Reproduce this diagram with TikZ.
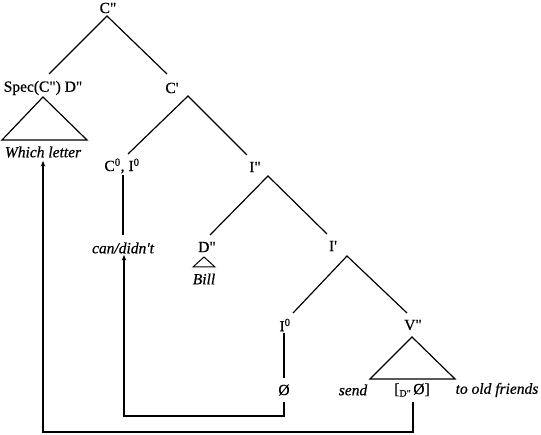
\documentclass[tikz,border=0pt]{standalone}
\usepackage{fontspec}
\setmainfont{Liberation Serif}[Ligatures=TeXOff,FakeBold=0.6]
\usetikzlibrary{arrows.meta}
\begin{document}
\begin{tikzpicture}[x=1pt,y=-1pt,
  lbl/.style={inner sep=0pt,font=\fontsize{15.5}{17}\selectfont},
  ilbl/.style={lbl,font=\fontsize{15.5}{17}\selectfont\itshape},
  edge/.style={line width=1.2pt},
  mv/.style={line width=1.2pt,-{Stealth[length=5.5pt,width=4.5pt]}}]
\useasboundingbox (0,0) rectangle (541,435);
% labels
\node[lbl] (Cpp) at (108,8) {C"};
\node[lbl] (spec) at (43,88) {Spec(C") D"};
\node[ilbl] (which) at (43,152) {Which letter};
\node[lbl] (Cp) at (172,88) {C'};
\node[lbl] (C0) at (122,166) {C\textsuperscript{0}, I\textsuperscript{0}};
\node[lbl] (Ipp) at (255,167) {I"};
\node[ilbl] (can) at (123,248) {can/didn't};
\node[lbl] (Dpp) at (207,247) {D"};
\node[ilbl] (bill) at (204,279) {Bill};
\node[lbl] (Ip) at (333,246) {I'};
\node[lbl] (I0) at (285,325) {I\textsuperscript{0}};
\node[lbl] (Vpp) at (413,325) {V"};
\node[lbl] (empty) at (284,390) {Ø};
\node[ilbl] (send) at (353,390) {send};
\node[lbl] (trace) at (412,390) {[\raisebox{-0.35ex}{\fontsize{10}{11}\selectfont D"}\,Ø]};
\node[ilbl] (friends) at (497,390) {to old friends};
% tree coordinates
\coordinate (a1) at (107,16);
\coordinate (a1l) at (49,74);
\coordinate (a1r) at (167,74);
\coordinate (a2) at (188,96);
\coordinate (a2l) at (128,154);
\coordinate (a2r) at (247,155);
\coordinate (a3) at (268,176);
\coordinate (a3l) at (210,235);
\coordinate (a3r) at (327,234);
\coordinate (a4) at (347,256);
\coordinate (a4l) at (293,313);
\coordinate (a4r) at (407,313);
\coordinate (c0t) at (123,175);
\coordinate (c0b) at (123,235);
\coordinate (i0t) at (284,333);
\coordinate (i0b) at (284,378);
\draw[edge] (a1l) -- (a1) -- (a1r);
\draw[edge] (a2l) -- (a2) -- (a2r);
\draw[edge] (a3l) -- (a3) -- (a3r);
\draw[edge] (a4l) -- (a4) -- (a4r);
\draw[edge] (c0t) -- (c0b);
\draw[edge] (i0t) -- (i0b);
% triangles
\draw[edge] (43,97) -- (87,140) -- (2,140) -- cycle;
\draw[line width=1pt] (204,257) -- (215,267) -- (193,267) -- cycle;
\draw[edge] (412,337) -- (455,379) -- (370,379) -- cycle;
% movement arrows
\coordinate (m2s) at (284,402);
\coordinate (m2t) at (124,255);
\coordinate (m1s) at (413,402);
\coordinate (m1t) at (43,161);
\draw[mv] (m2s) -- (284,416) -- (124,416) -- (m2t);
\draw[mv] (m1s) -- (413,432) -- (43,432) -- (m1t);
\end{tikzpicture}
\end{document}
